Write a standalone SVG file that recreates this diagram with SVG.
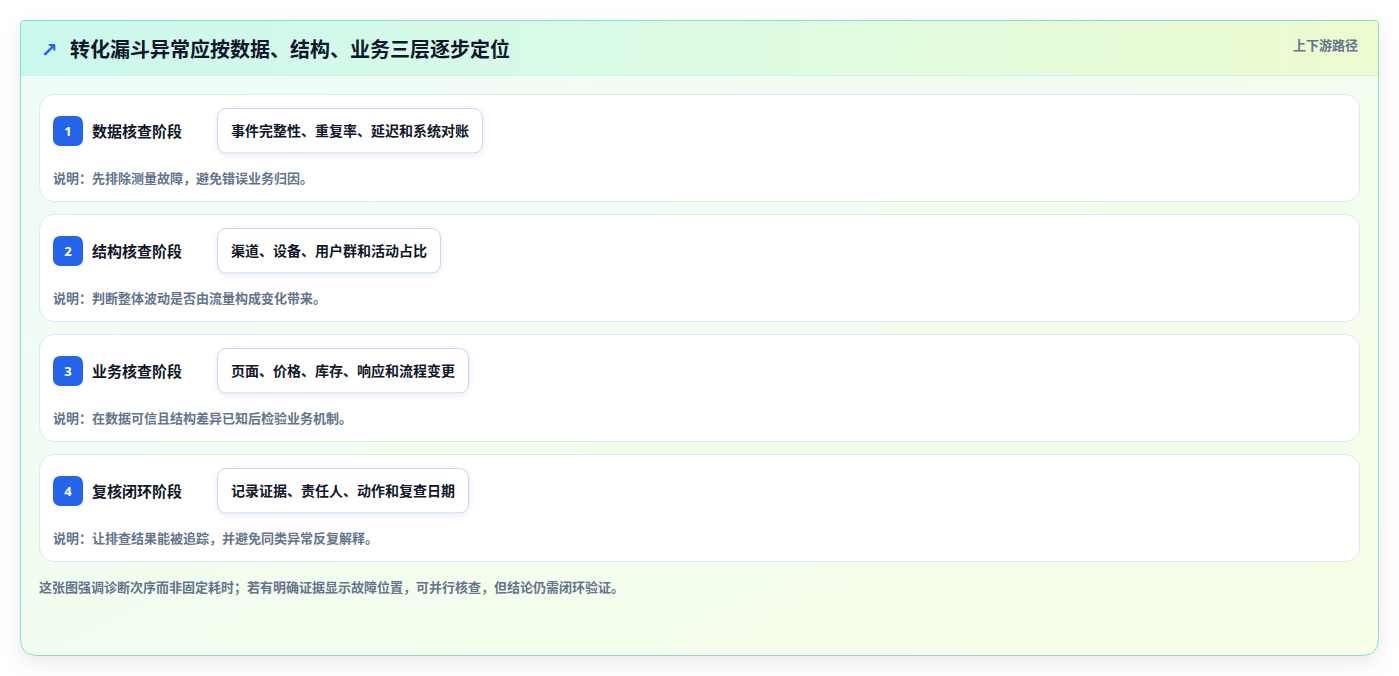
<svg xmlns="http://www.w3.org/2000/svg" width="1399" height="676" viewBox="0 0 1399 676">
<defs>
<linearGradient id="hdr" x1="0" y1="0" x2="1" y2="0">
<stop offset="0" stop-color="#cbf8ee"/>
<stop offset="0.5" stop-color="#dcfbe4"/>
<stop offset="1" stop-color="#edfbcf"/>
</linearGradient>
<linearGradient id="body" x1="0" y1="0" x2="1" y2="1">
<stop offset="0" stop-color="#eefcf9"/>
<stop offset="1" stop-color="#f6fee6"/>
</linearGradient>
<filter id="outerShadow" x="-5%" y="-5%" width="110%" height="115%">
<feDropShadow dx="0" dy="8" stdDeviation="10" flood-color="#0f172a" flood-opacity="0.08"/>
</filter>
<filter id="chipShadow" x="-10%" y="-20%" width="120%" height="150%">
<feDropShadow dx="0" dy="2" stdDeviation="3" flood-color="#1e3a8a" flood-opacity="0.08"/>
</filter>
<style>
text{font-family:"Noto Sans CJK SC","Noto Sans",sans-serif;font-weight:700}
.card{fill:#ffffff;stroke:#dde8f6;stroke-width:1}
.badge{fill:#2563eb}
.num{fill:#ffffff;font-size:13px;text-anchor:middle;font-family:"Noto Sans","Noto Sans CJK SC",sans-serif}
.stage{fill:#0f172a;font-size:15px}
.chip{fill:#ffffff;stroke:#c4d5ef;stroke-width:1}
.chipt{fill:#0f172a;font-size:14px}
.desc{fill:#64748b;font-size:13px}
</style>
</defs>
<rect width="1399" height="676" fill="#ffffff"/>
<g id="frame">
<path d="M23,20.5 H1375 Q1378.5,20.5 1378.5,24 V639 Q1378.5,655.5 1362,655.5 H37 Q20.5,655.5 20.5,639 V24 Q20.5,20.5 23,20.5 Z" fill="url(#body)" stroke="#86dccd" stroke-width="1" filter="url(#outerShadow)"/>
<path d="M23,21 H1375 Q1378,21 1378,24 V75 H21 V24 Q21,21 23,21 Z" fill="url(#hdr)"/>
<line x1="21" y1="75.5" x2="1378" y2="75.5" stroke="#d4eef0" stroke-width="1"/>
<text x="41" y="57" style="font-family:'DejaVu Sans',sans-serif;font-weight:700;font-size:20px" fill="#2563eb">↗</text>
<text x="70" y="57" fill="#0f172a" style="font-size:20px">转化漏斗异常应按数据、结构、业务三层逐步定位</text>
<text x="1358" y="49.5" fill="#64748b" text-anchor="end" style="font-size:13px">上下游路径</text>
</g>
<g id="stage1">
<rect class="card" x="39.5" y="94.5" width="1320" height="107" rx="14"/>
<rect class="badge" x="53" y="116" width="30" height="30" rx="7"/>
<text class="num" x="68" y="135.5">1</text>
<text class="stage" x="92" y="136.5">数据核查阶段</text>
<rect class="chip" x="217.5" y="108.5" width="265" height="44.5" rx="9" filter="url(#chipShadow)"/>
<text class="chipt" x="231" y="136">事件完整性、重复率、延迟和系统对账</text>
<text class="desc" x="53" y="182.5">说明：先排除测量故障，避免错误业务归因。</text>
</g>
<g id="stage2">
<rect class="card" x="39.5" y="214.5" width="1320" height="107" rx="14"/>
<rect class="badge" x="53" y="236" width="30" height="30" rx="7"/>
<text class="num" x="68" y="255.5">2</text>
<text class="stage" x="92" y="256.5">结构核查阶段</text>
<rect class="chip" x="217.5" y="228.5" width="223" height="44.5" rx="9" filter="url(#chipShadow)"/>
<text class="chipt" x="231" y="256">渠道、设备、用户群和活动占比</text>
<text class="desc" x="53" y="302.5">说明：判断整体波动是否由流量构成变化带来。</text>
</g>
<g id="stage3">
<rect class="card" x="39.5" y="334.5" width="1320" height="107" rx="14"/>
<rect class="badge" x="53" y="356" width="30" height="30" rx="7"/>
<text class="num" x="68" y="375.5">3</text>
<text class="stage" x="92" y="376.5">业务核查阶段</text>
<rect class="chip" x="217.5" y="348.5" width="251" height="44.5" rx="9" filter="url(#chipShadow)"/>
<text class="chipt" x="231" y="376">页面、价格、库存、响应和流程变更</text>
<text class="desc" x="53" y="422.5">说明：在数据可信且结构差异已知后检验业务机制。</text>
</g>
<g id="stage4">
<rect class="card" x="39.5" y="454.5" width="1320" height="107" rx="14"/>
<rect class="badge" x="53" y="476" width="30" height="30" rx="7"/>
<text class="num" x="68" y="495.5">4</text>
<text class="stage" x="92" y="496.5">复核闭环阶段</text>
<rect class="chip" x="217.5" y="468.5" width="251" height="44.5" rx="9" filter="url(#chipShadow)"/>
<text class="chipt" x="231" y="496">记录证据、责任人、动作和复查日期</text>
<text class="desc" x="53" y="542.5">说明：让排查结果能被追踪，并避免同类异常反复解释。</text>
</g>
<g id="connectors"></g>
<g id="footer">
<text class="desc" x="39" y="591.5">这张图强调诊断次序而非固定耗时；若有明确证据显示故障位置，可并行核查，但结论仍需闭环验证。</text>
</g>
</svg>
